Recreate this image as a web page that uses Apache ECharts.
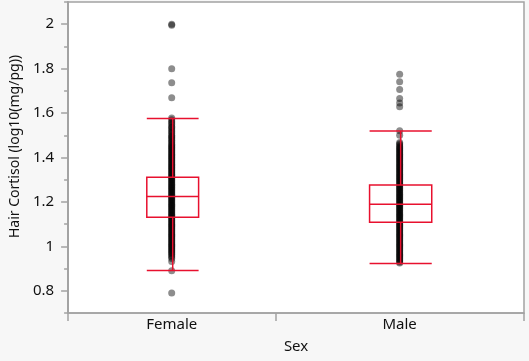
<!DOCTYPE html>
<html>
<head>
<meta charset="utf-8">
<script src="https://cdn.jsdelivr.net/npm/echarts@6/dist/echarts.min.js"></script>
<style>html,body{margin:0;padding:0;background:#f7f7f7;}#c{width:529px;height:361px;}</style>
</head>
<body>
<div id="c"></div>
<script>
// ---- data ----
const categories = ['Female', 'Male'];
const femaleValues = [2.0, 1.995, 1.80, 1.736, 1.669,
  1.578, 1.57, 1.562, 1.555, 1.548, 1.54, 1.535, 1.528, 1.52, 1.515, 1.508, 1.50, 1.495, 1.49, 1.484, 1.478, 1.472, 1.466, 1.46, 1.455, 1.45, 1.445, 1.44, 1.435, 1.43, 1.425, 1.42, 1.415, 1.41, 1.405, 1.40,
  1.395, 1.39, 1.385, 1.38, 1.375, 1.37, 1.365, 1.36, 1.355, 1.35, 1.345, 1.34, 1.335, 1.33, 1.325, 1.32, 1.315, 1.31, 1.305, 1.30,
  1.295, 1.29, 1.285, 1.28, 1.275, 1.27, 1.265, 1.26, 1.255, 1.25, 1.245, 1.24, 1.235, 1.23, 1.225, 1.22, 1.215, 1.21, 1.205, 1.20,
  1.195, 1.19, 1.185, 1.18, 1.175, 1.17, 1.165, 1.16, 1.155, 1.15, 1.145, 1.14, 1.135, 1.13, 1.125, 1.12, 1.115, 1.11, 1.105, 1.10,
  1.095, 1.09, 1.085, 1.08, 1.075, 1.07, 1.065, 1.06, 1.055, 1.05, 1.045, 1.04, 1.035, 1.03, 1.025, 1.02, 1.015, 1.01, 1.005, 1.00,
  0.995, 0.99, 0.985, 0.98, 0.975, 0.97, 0.965, 0.958, 0.952, 0.945, 0.932, 0.89, 0.79];
const maleValues = [1.775, 1.741, 1.706, 1.666, 1.645, 1.628, 1.52, 1.50,
  1.468, 1.462, 1.456, 1.45, 1.445, 1.44, 1.435, 1.43, 1.425, 1.42, 1.415, 1.41, 1.405, 1.40,
  1.395, 1.39, 1.385, 1.38, 1.375, 1.37, 1.365, 1.36, 1.355, 1.35, 1.345, 1.34, 1.335, 1.33, 1.325, 1.32, 1.315, 1.31, 1.305, 1.30,
  1.295, 1.29, 1.285, 1.28, 1.275, 1.27, 1.265, 1.26, 1.255, 1.25, 1.245, 1.24, 1.235, 1.23, 1.225, 1.22, 1.215, 1.21, 1.205, 1.20,
  1.195, 1.19, 1.185, 1.18, 1.175, 1.17, 1.165, 1.16, 1.155, 1.15, 1.145, 1.14, 1.135, 1.13, 1.125, 1.12, 1.115, 1.11, 1.105, 1.10,
  1.095, 1.09, 1.085, 1.08, 1.075, 1.07, 1.065, 1.06, 1.055, 1.05, 1.045, 1.04, 1.035, 1.03, 1.025, 1.02, 1.015, 1.01, 1.005, 1.00,
  0.995, 0.99, 0.985, 0.98, 0.975, 0.97, 0.965, 0.96, 0.955, 0.95, 0.945, 0.94, 0.935, 0.93, 0.925];
// box stats: [lower whisker, Q1, median, Q3, upper whisker]
const femaleBox = [0.891, 1.131, 1.224, 1.311, 1.576];
const maleBox = [0.923, 1.109, 1.19, 1.276, 1.519];
const yTickLabels = [0.8, 1, 1.2, 1.4, 1.6, 1.8, 2];
// ---- layout (JMP widths bands by group size) ----
const bandEdges = [0, 1, 2.2];
const catCenters = [0.5, 1.6];
const boxHalf = [0.125, 0.15];

const font = '"Noto Sans", "Open Sans", sans-serif';
const axisGray = '#a3a3a3';
const red = '#e8102e';

const boxData = [
  [catCenters[0], ...femaleBox, boxHalf[0]],
  [catCenters[1], ...maleBox, boxHalf[1]]
];

const chart = echarts.init(document.getElementById('c'));
chart.setOption({
  backgroundColor: '#f7f7f7',
  animation: false,
  grid: {left: 62, right: 5, top: 2, bottom: 48, show: true, backgroundColor: '#ffffff', borderColor: axisGray, borderWidth: 1.5},
  xAxis: {
    type: 'value', min: bandEdges[0], max: bandEdges[2],
    axisLine: {show: true, lineStyle: {color: axisGray, width: 1.5}},
    axisTick: {show: true, customValues: bandEdges, length: 8, lineStyle: {color: axisGray, width: 1.5}},
    axisLabel: {customValues: catCenters, formatter: v => categories[catCenters.findIndex(c => Math.abs(c - v) < 1e-6)] || '', color: '#111', fontSize: 15, fontFamily: font, margin: 4},
    splitLine: {show: false},
    name: 'Sex', nameLocation: 'middle', nameGap: 26,
    nameTextStyle: {color: '#111', fontSize: 15, fontFamily: font}
  },
  yAxis: [{
    type: 'value', min: 0.7, max: 2.1, interval: 0.1,
    axisLine: {show: true, lineStyle: {color: axisGray, width: 2}},
    axisTick: {show: true, customValues: yTickLabels, length: 7, lineStyle: {color: axisGray, width: 1.5}},
    axisLabel: {customValues: yTickLabels, formatter: v => String(Math.round(v * 10) / 10), color: '#111', fontSize: 15, fontFamily: font, margin: 14},
    splitLine: {show: false},
    name: 'Hair Cortisol (log10(mg/pg))', nameLocation: 'middle', nameGap: 44,
    nameTextStyle: {color: '#111', fontSize: 14, fontFamily: font, padding: [0, 0, 0, 22]}
  }, {
    type: 'value', min: 0.7, max: 2.1, interval: 0.1, position: 'left',
    axisLine: {show: false},
    axisTick: {show: true, length: 4, lineStyle: {color: axisGray, width: 1.5}},
    axisLabel: {show: false},
    splitLine: {show: false}
  }],
  series: [
    {
      type: 'scatter', symbolSize: 7, yAxisIndex: 0,
      itemStyle: {color: 'rgba(0,0,0,0.56)'},
      data: femaleValues.map(v => [catCenters[0], v]), z: 2
    },
    {
      type: 'scatter', symbolSize: 7, yAxisIndex: 0,
      itemStyle: {color: 'rgba(0,0,0,0.56)'},
      data: maleValues.map(v => [catCenters[1], v]), z: 2
    },
    {
      type: 'custom', yAxisIndex: 0, z: 5,
      data: boxData,
      renderItem: function (params, api) {
        const x = api.value(0);
        const half = api.value(6);
        const pLo = api.coord([x, api.value(1)]);
        const pQ1 = api.coord([x, api.value(2)]);
        const pMed = api.coord([x, api.value(3)]);
        const pQ3 = api.coord([x, api.value(4)]);
        const pHi = api.coord([x, api.value(5)]);
        const hw = api.size([half, 0])[0];
        const cx = pMed[0] + 1;
        const style = {stroke: red, lineWidth: 1.5, fill: null};
        const line = (x1, y1, x2, y2) => ({type: 'line', shape: {x1, y1, x2, y2}, style});
        return {type: 'group', children: [
          {type: 'rect', shape: {x: cx - hw, y: pQ3[1], width: 2 * hw, height: pQ1[1] - pQ3[1]}, style},
          line(cx - hw, pMed[1], cx + hw, pMed[1]),
          line(cx, pQ3[1], cx, pHi[1]),
          line(cx, pQ1[1], cx, pLo[1]),
          line(cx - hw, pHi[1], cx + hw, pHi[1]),
          line(cx - hw, pLo[1], cx + hw, pLo[1])
        ]};
      }
    }
  ]
});
</script>
</body>
</html>
